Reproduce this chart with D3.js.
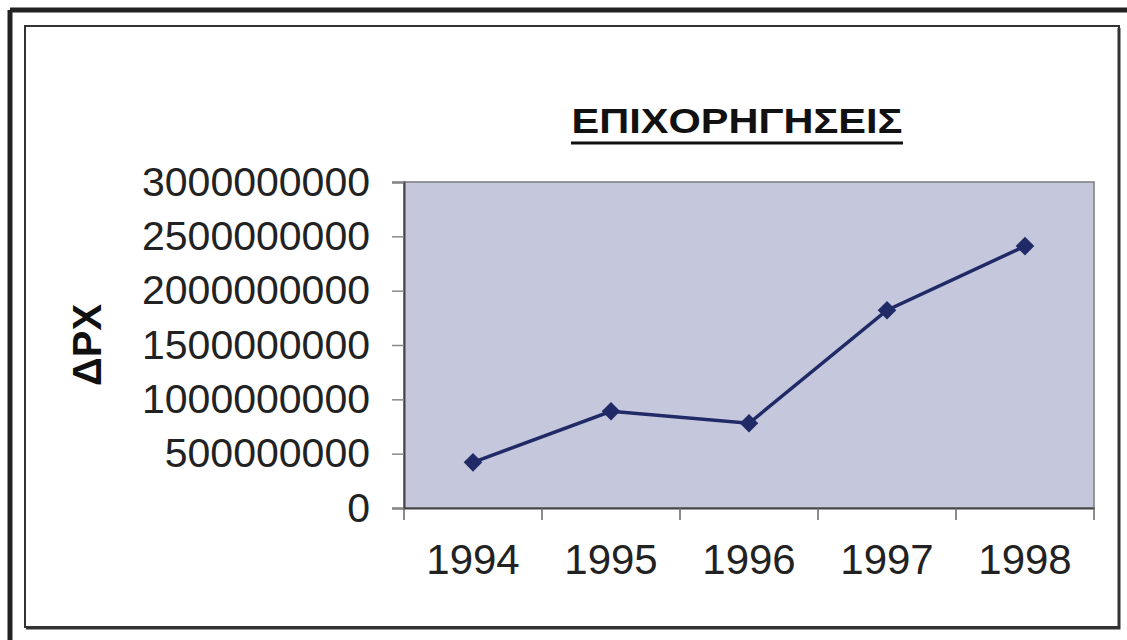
<!DOCTYPE html>
<html>
<head>
<meta charset="utf-8">
<script src="https://cdn.jsdelivr.net/npm/d3@7"></script>
<style>
  body { margin: 0; background: #fff; }
  svg { display: block; font-family: "Liberation Sans", Arial, sans-serif; }
</style>
</head>
<body>
<div id="chart"></div>
<script>
const years = ['1994', '1995', '1996', '1997', '1998'];
const values = [420000000, 890000000, 780000000, 1820000000, 2410000000];
const yTicks = [0, 500000000, 1000000000, 1500000000, 2000000000, 2500000000, 3000000000];
const title = 'ΕΠΙΧΟΡΗΓΗΣΕΙΣ';
const yTitle = 'ΔΡΧ';

const W = 1127, H = 640;
const margin = {top: 182, right: 33, bottom: 132, left: 404};
const width = W - margin.left - margin.right;
const height = H - margin.top - margin.bottom;

const svg = d3.select('#chart').append('svg')
    .attr('width', W)
    .attr('height', H);

// frames
svg.append('line').attr('x1', 10).attr('y1', 10).attr('x2', W).attr('y2', 10)
    .attr('stroke', '#222').attr('stroke-width', 5);
svg.append('line').attr('x1', 10).attr('y1', 10).attr('x2', 10).attr('y2', H)
    .attr('stroke', '#222').attr('stroke-width', 5);
svg.append('path')
    .attr('d', `M25,26H1119V627H25Z`)
    .attr('fill', 'none').attr('stroke', '#333').attr('stroke-width', 2);
svg.append('path')
    .attr('d', `M1119,28V628H26`)
    .attr('fill', 'none').attr('stroke', '#333').attr('stroke-width', 3);

const g = svg.append('g')
    .attr('transform', `translate(${margin.left},${margin.top})`);

const x = d3.scaleBand()
    .domain(years)
    .range([0, width]);

const y = d3.scaleLinear()
    .domain([0, 3000000000])
    .range([height, 0]);

g.append('rect')
    .attr('width', width)
    .attr('height', height)
    .attr('fill', '#c5c8dc')
    .attr('stroke', '#7a7a80')
    .attr('stroke-width', 1.5);

// y axis
const yAxis = g.append('g')
    .call(d3.axisLeft(y).tickValues(yTicks).tickSize(12).tickPadding(22).tickFormat(d3.format('d')));
yAxis.select('.domain').attr('stroke', '#444').attr('stroke-width', 2);
yAxis.selectAll('.tick line').attr('stroke', '#888').attr('stroke-width', 1.5);
yAxis.selectAll('text')
    .attr('font-size', 41)
    .attr('fill', '#222')
    .attr('font-family', '"Liberation Sans", Arial, sans-serif');

// x axis with ticks at category boundaries
const xAxis = g.append('g')
    .attr('transform', `translate(0,${height})`)
    .call(d3.axisBottom(x).tickSize(0).tickPadding(36));
xAxis.select('.domain').attr('stroke', '#444').attr('stroke-width', 2);
xAxis.selectAll('text')
    .attr('font-size', 42)
    .attr('fill', '#222')
    .attr('font-family', '"Liberation Sans", Arial, sans-serif');
g.append('g')
    .selectAll('line')
    .data(years.map(d => x(d)).concat([width]))
    .join('line')
    .attr('x1', d => d).attr('x2', d => d)
    .attr('y1', height).attr('y2', height + 12)
    .attr('stroke', '#666').attr('stroke-width', 1.5);

// line
const line = d3.line()
    .x((d, i) => x(years[i]) + x.bandwidth() / 2)
    .y(d => y(d));

g.append('path')
    .datum(values)
    .attr('fill', 'none')
    .attr('stroke', '#1f2a66')
    .attr('stroke-width', 3.5)
    .attr('d', line);

g.selectAll('.pt')
    .data(values)
    .join('path')
    .attr('class', 'pt')
    .attr('transform', (d, i) => `translate(${x(years[i]) + x.bandwidth() / 2},${y(d)})`)
    .attr('d', d3.symbol(d3.symbolDiamond2, 220))
    .attr('fill', '#1f2a66');

// title
const t = svg.append('text')
    .attr('x', 737)
    .attr('y', 133)
    .attr('text-anchor', 'middle')
    .attr('font-size', 35)
    .attr('font-weight', 'bold')
    .attr('fill', '#111')
    .attr('textLength', 331)
    .attr('lengthAdjust', 'spacingAndGlyphs')
    .text(title);
svg.append('line')
    .attr('x1', 737 - 166).attr('x2', 737 + 166)
    .attr('y1', 143).attr('y2', 143)
    .attr('stroke', '#111').attr('stroke-width', 3);

// y title
svg.append('text')
    .attr('transform', 'translate(101,345) rotate(-90)')
    .attr('text-anchor', 'middle')
    .attr('font-size', 40)
    .attr('font-weight', 'bold')
    .attr('fill', '#111')
    .text(yTitle);
</script>
</body>
</html>
